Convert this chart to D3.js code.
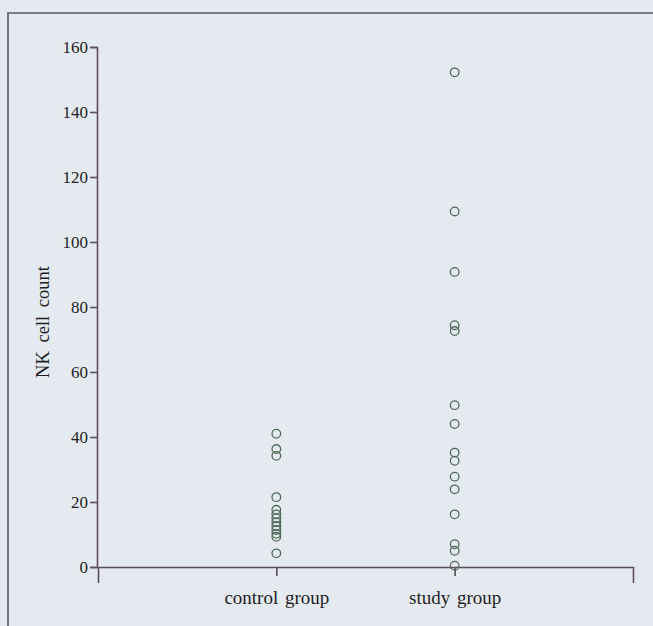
<!DOCTYPE html>
<html><head><meta charset="utf-8">
<script src="https://cdn.jsdelivr.net/npm/d3@7/dist/d3.min.js"></script>
<style>
html,body{margin:0;padding:0;background:#e5eaf0;}
svg{display:block;}
</style></head>
<body>
<svg id="chart" width="653" height="626"></svg>
<script>
// ---- data ----
const categories = ["control group", "study group"];
const controlValues = [41, 36.3, 34.2, 21.5, 17.6, 16.2, 15, 13.8, 12.6, 11.4, 10.2, 9.3, 4.2];
const studyValues = [152.2, 109.4, 90.8, 74.4, 72.6, 49.8, 44.0, 35.2, 32.7, 27.8, 23.9, 16.2, 7.0, 5.0, 0.4];
const yTicks = [0, 20, 40, 60, 80, 100, 120, 140, 160];
const yLabel = "NK cell count";

// ---- drawing ----
const svg = d3.select("#chart");
const W = 653, H = 626;

// page frame
svg.append("path").attr("d", `M8,${H} V13 H${W}`)
  .attr("fill", "none").attr("stroke", "#5a5560").attr("stroke-width", 1.6);

const y = d3.scaleLinear().domain([0, 160]).range([567, 47]);
const x = d3.scalePoint().domain(categories).range([98, 633]).padding(1);

const axisColor = "#5b4e60";
const fontFam = "Liberation Serif, DejaVu Serif, serif";

const gy = svg.append("g").attr("transform", "translate(97,0)")
  .call(d3.axisLeft(y).tickValues(yTicks).tickSize(7).tickSizeOuter(7).tickPadding(2));
const gx = svg.append("g").attr("transform", "translate(0,567)")
  .call(d3.axisBottom(x).tickSize(9).tickSizeOuter(16).tickPadding(15));
[gx, gy].forEach(g => {
  g.selectAll("path,line").attr("stroke", axisColor).attr("stroke-width", 1.6);
  g.selectAll("text").attr("fill", "#1e1e24").attr("font-family", fontFam);
});
gy.selectAll("text").attr("font-size", 17).attr("dy", "0.34em");
gx.selectAll("text").attr("font-size", 19).attr("word-spacing", 2);

// y label
svg.append("text")
  .attr("transform", "translate(49,322) rotate(-90)")
  .attr("text-anchor", "middle")
  .attr("font-family", fontFam).attr("font-size", 18.5)
  .attr("fill", "#1e1e24").attr("word-spacing", 4)
  .text(yLabel);

// points
const series = [
  {cat: categories[0], vals: controlValues},
  {cat: categories[1], vals: studyValues}
];
series.forEach(s => {
  svg.append("g").selectAll("circle").data(s.vals).join("circle")
    .attr("cx", x(s.cat)).attr("cy", d => y(d)).attr("r", 4.3)
    .attr("fill", "none").attr("stroke", "#4f6a58").attr("stroke-width", 1.3);
});
</script>
</body></html>
